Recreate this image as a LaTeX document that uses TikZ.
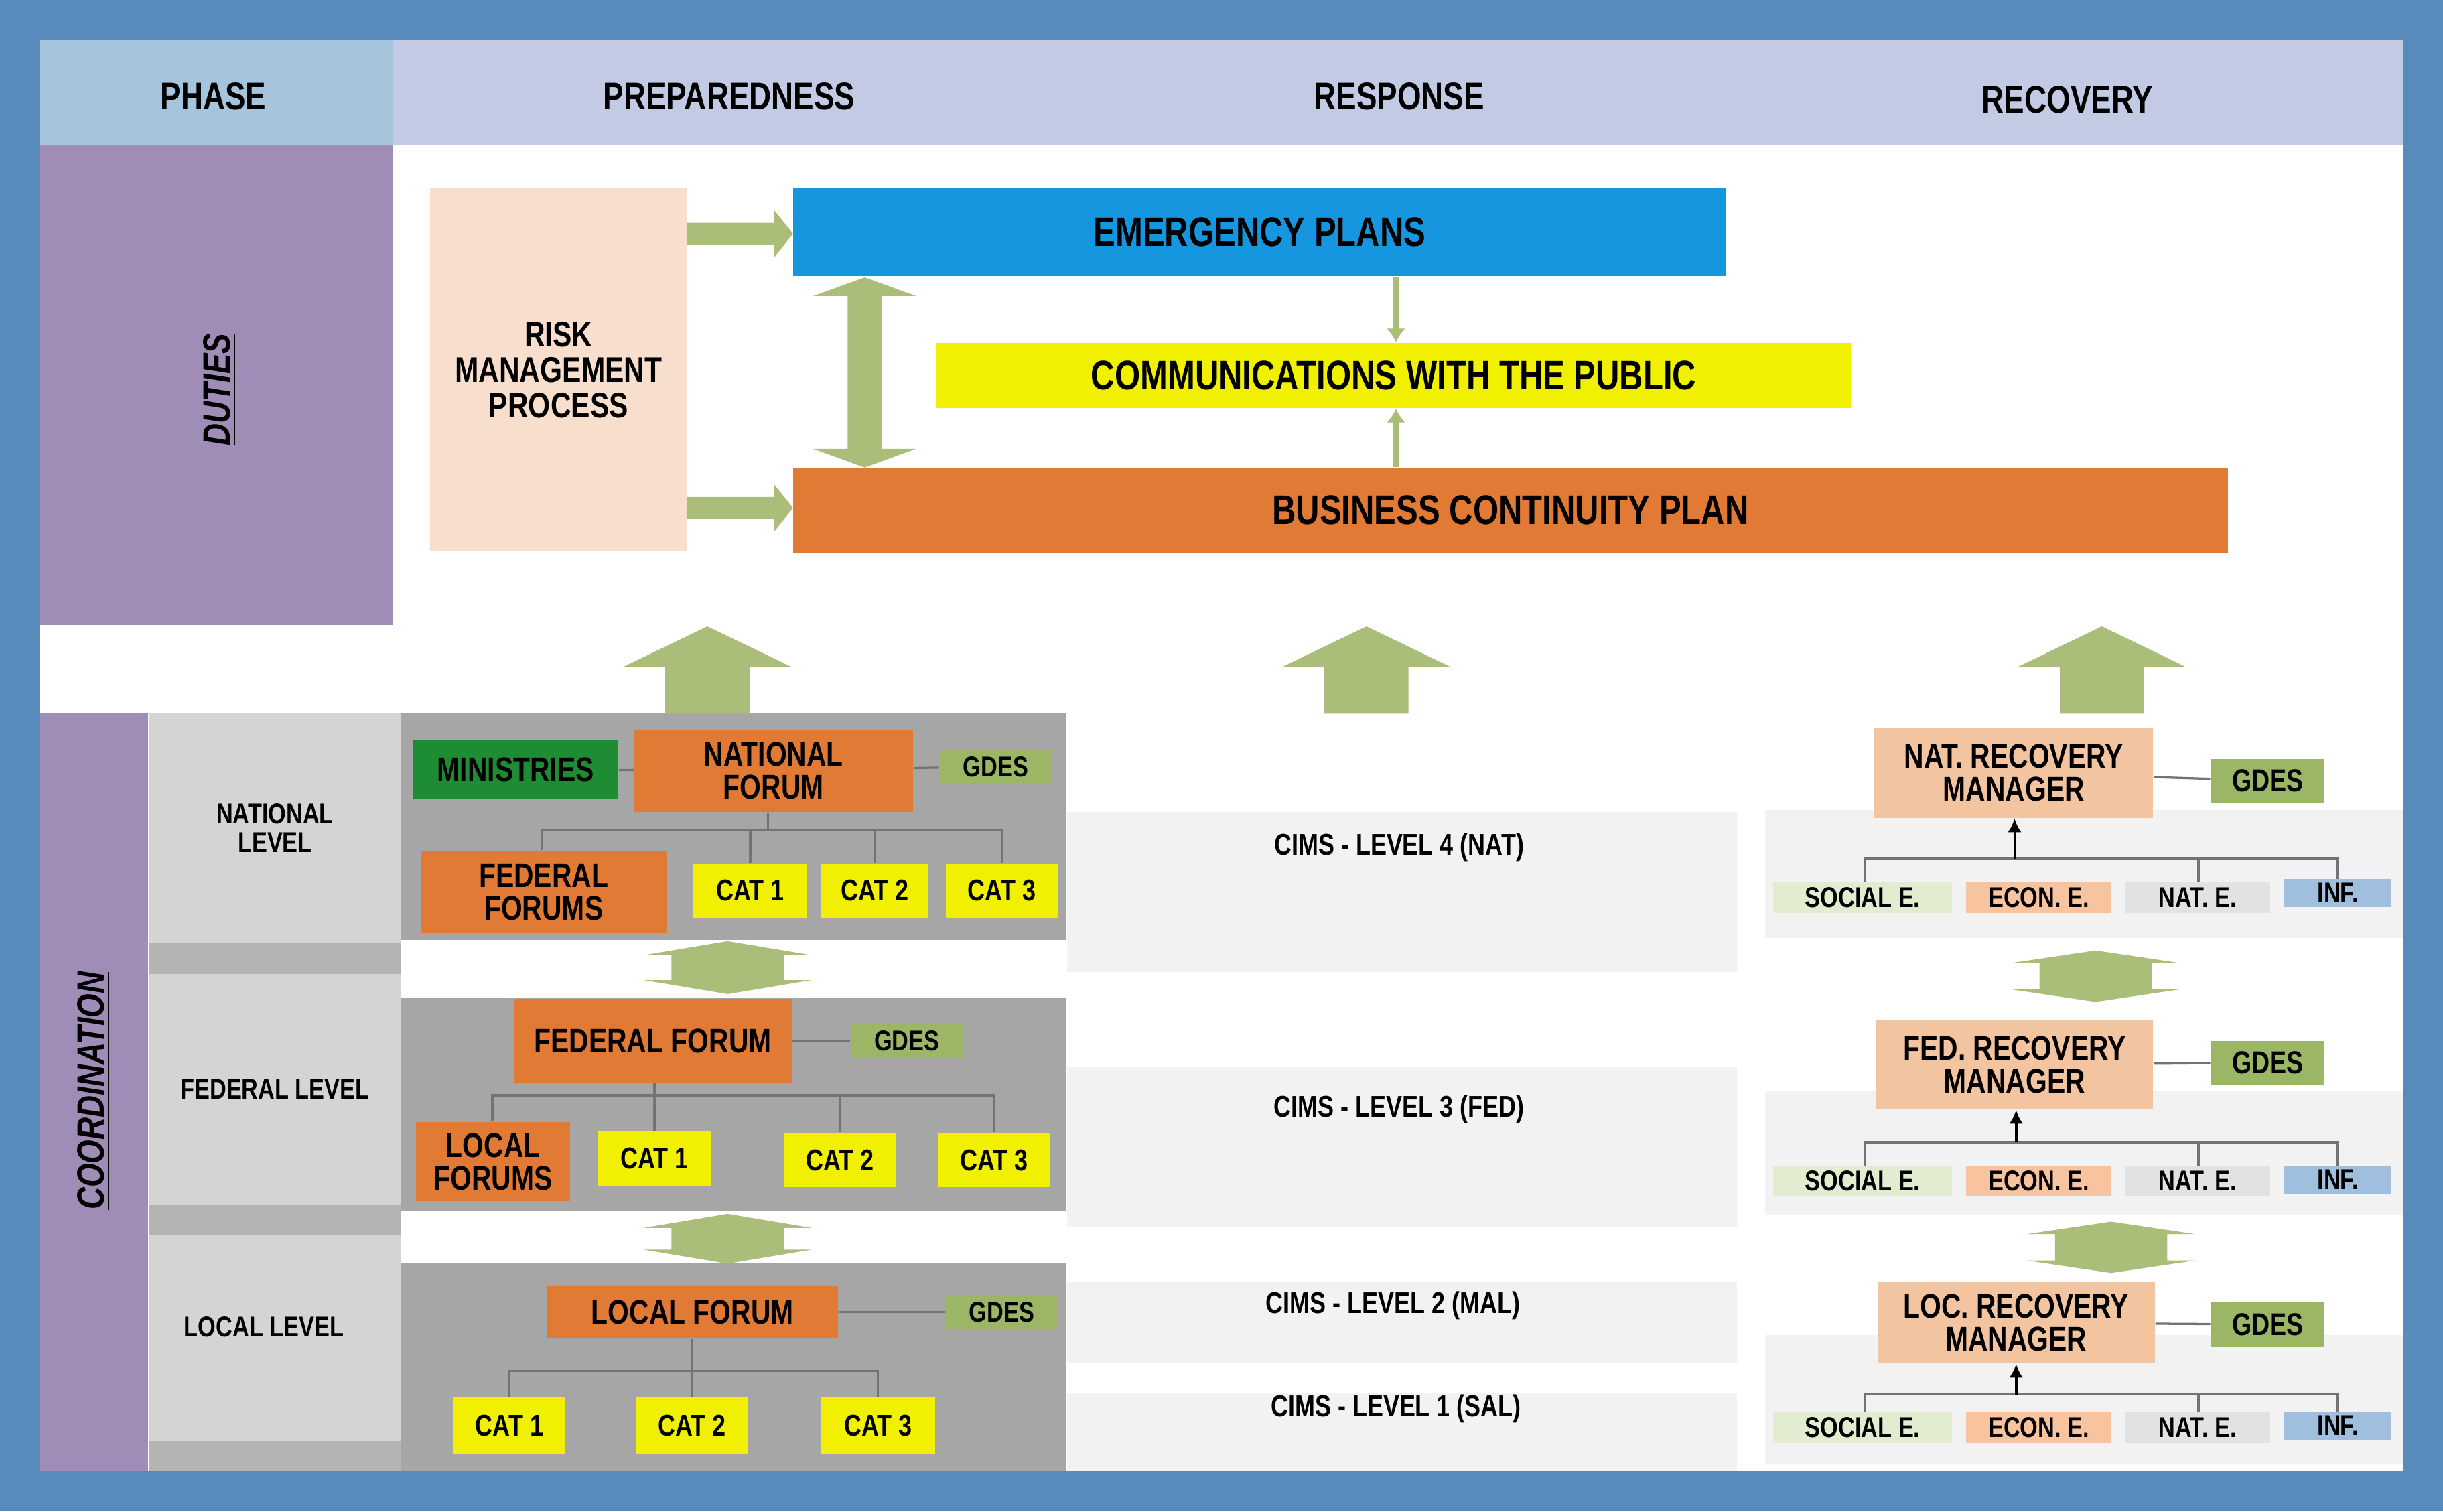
\documentclass[tikz,border=0pt]{standalone}
\usepackage{fontspec}
\usetikzlibrary{arrows.meta}
\setmainfont{Liberation Sans}[FakeStretch=0.8]
\begin{document}
\definecolor{bg}{RGB}{88,138,188}
\definecolor{hdA}{RGB}{166,196,220}
\definecolor{hdB}{RGB}{194,202,228}
\definecolor{purp}{RGB}{159,141,184}
\definecolor{lvl}{RGB}{212,212,212}
\definecolor{lvlD}{RGB}{180,180,180}
\definecolor{gbox}{RGB}{166,166,166}
\definecolor{lg}{RGB}{242,242,242}
\definecolor{risk}{RGB}{248,222,204}
\definecolor{blu}{RGB}{22,150,222}
\definecolor{yel}{RGB}{240,240,0}
\definecolor{ora}{RGB}{224,122,52}
\definecolor{grn}{RGB}{170,190,122}
\definecolor{dgrn}{RGB}{30,140,50}
\definecolor{gdes}{RGB}{155,182,100}
\definecolor{rec}{RGB}{243,196,160}
\definecolor{soc}{RGB}{226,236,208}
\definecolor{eco}{RGB}{248,196,160}
\definecolor{nat}{RGB}{226,226,226}
\definecolor{inf}{RGB}{160,190,222}
\newcommand{\R}[7]{%
 \pgfmathsetmacro{\ww}{(#4-#2)*0.02}\pgfmathsetmacro{\hh}{(#5-#3)*0.02}%
 \node[#6,minimum width=\ww cm,minimum height=\hh cm] (#1) at ({(#2+#4)/2},{(#3+#5)/2}) {#7};}
\newcommand{\dbl}[6]{% cx, ytop, ybot, headhalf, shafthalf, headlen
 \fill[grn] (#1,#2) -- ({#1+#4},{#2+#6}) -- ({#1+#5},{#2+#6}) -- ({#1+#5},{#3-#6}) -- ({#1+#4},{#3-#6}) -- (#1,#3)
  -- ({#1-#4},{#3-#6}) -- ({#1-#5},{#3-#6}) -- ({#1-#5},{#2+#6}) -- ({#1-#4},{#2+#6}) -- cycle;}
\newcommand{\uparr}[1]{%
 \fill[grn] (#1,402) -- ({#1+54},428) -- ({#1+27},428) -- ({#1+27},458) -- ({#1-27},458) -- ({#1-27},428) -- ({#1-54},428) -- cycle;}
\newcommand{\rarr}[1]{%
 \fill[grn] (441,{#1-7}) -- (497,{#1-7}) -- (497,{#1-15}) -- (509,#1) -- (497,{#1+15}) -- (497,{#1+7}) -- (441,{#1+7}) -- cycle;}
\begin{tikzpicture}[x=0.02cm,y=-0.02cm,
 every node/.style={inner sep=0pt,align=center,font=\fontsize{11}{11}\selectfont\bfseries},
 bx/.style={rectangle,draw=none},
 hd/.style={font=\fontsize{14}{14}\selectfont\bfseries},
 big/.style={bx,font=\fontsize{15}{15}\selectfont\bfseries},
 mid/.style={bx,font=\fontsize{12.5}{12}\selectfont\bfseries},
 cat/.style={bx,fill=yel,font=\fontsize{11}{11}\selectfont\bfseries},
 gd/.style={bx,fill=gdes,font=\fontsize{10.5}{10}\selectfont\bfseries},
 sm/.style={bx,font=\fontsize{10.5}{10}\selectfont\bfseries,anchor=center},
 lv/.style={bx,fill=lvl,font=\fontsize{10.5}{10.5}\selectfont\bfseries},
 ln/.style={draw=gray!90!black,line width=0.8pt},
 thin/.style={grn,line width=2.5pt,-{Latex[length=5pt,width=7pt]}},
 blk/.style={black,line width=0.9pt,-{Latex[length=5pt,width=5pt]}}]
\useasboundingbox (0,0) rectangle (1568,970);
\fill[bg] (0,0) rectangle (1568,970);
\fill[white] (26,26) rectangle (1542,944);
% header
\fill[hdA] (26,26) rectangle (252,93);
\fill[hdB] (252,26) rectangle (1542,93);
\node[hd] (hPh) at (137,62) {PHASE};
\node[hd] (hPr) at (468,62) {PREPAREDNESS};
\node[hd] (hRe) at (898,62) {RESPONSE};
\node[hd] (hRc) at (1327,64) {RECOVERY};
% left columns
\fill[purp] (26,93) rectangle (252,401);
\node[rotate=90,font=\fontsize{14}{14}\selectfont\bfseries\itshape] (duties) at (141,250) {\underline{DUTIES}};
\fill[purp] (26,458) rectangle (95,944);
\node[rotate=90,font=\fontsize{14}{14}\selectfont\bfseries\itshape] (coord) at (60,700) {\underline{COORDINATION}};
\fill[lvlD] (96,458) rectangle (257,944);
\R{ln}{96}{458}{257}{605}{lv}{NATIONAL\\LEVEL}
\R{lf}{96}{625}{257}{773}{lv}{FEDERAL LEVEL}
\R{ll}{96}{793}{257}{925}{lv}{\hspace*{-8pt}LOCAL LEVEL\\[-2pt]\mbox{}}
\fill[gbox] (257,458) rectangle (684,603);
\fill[gbox] (257,640) rectangle (684,777);
\fill[gbox] (257,811) rectangle (684,944);
\fill[lg] (685,521) rectangle (1115,624);
\fill[lg] (685,685) rectangle (1115,787);
\fill[lg] (685,823) rectangle (1115,875);
\fill[lg] (685,894) rectangle (1115,944);
\fill[lg] (1133,520) rectangle (1542,602);
\fill[lg] (1133,700) rectangle (1542,780);
\fill[lg] (1133,857) rectangle (1542,940);
% duties
\R{risk}{276}{121}{441}{354}{bx,fill=risk,font=\fontsize{13}{13}\selectfont\bfseries}{RISK\\MANAGEMENT\\PROCESS}
\R{ep}{509}{121}{1108}{177}{big,fill=blu}{EMERGENCY PLANS}
\R{com}{601}{220}{1188}{262}{big,fill=yel}{COMMUNICATIONS WITH THE PUBLIC}
\R{bcp}{509}{300}{1430}{355}{big,fill=ora}{BUSINESS CONTINUITY PLAN}
\rarr{150}\rarr{326}
\dbl{555}{178}{300}{33}{11}{12}
\draw[thin] (ep.south -| 896,0) -- (com.north -| 896,0);
\draw[thin] (bcp.north -| 896,0) -- (com.south -| 896,0);
\uparr{454}\uparr{877}\uparr{1349}
% national
\R{min}{265}{475}{397}{513}{mid,fill=dgrn}{MINISTRIES}
\R{nf}{407}{468}{586}{521}{mid,fill=ora}{NATIONAL\\FORUM}
\R{ng}{603}{481}{675}{503}{gd}{GDES}
\R{ff}{270}{546}{428}{599}{mid,fill=ora}{FEDERAL\\FORUMS}
\R{n1}{445}{554}{518}{589}{cat}{CAT 1}
\R{n2}{527}{554}{596}{589}{cat}{CAT 2}
\R{n3}{607}{554}{679}{589}{cat}{CAT 3}
\coordinate (b1) at (0,533);
\draw[ln] (min) -- (nf); \draw[ln] (nf) -- (ng);
\draw[ln] (ff.north -| 348,0) -- (348,533) -- (643,533) -- (n3.north -| 643,0);
\draw[ln] (nf.south -| 493,0) -- (493,533);
\draw[ln] (n1.north) -- (n1.north |- b1); \draw[ln] (n2.north) -- (n2.north |- b1);
\dbl{467}{604}{638}{54}{36}{9}
% federal
\R{fF}{330}{641}{508}{695}{mid,fill=ora}{FEDERAL FORUM}
\R{fg}{546}{657}{618}{679}{gd}{GDES}
\R{lfs}{267}{720}{366}{771}{mid,fill=ora}{LOCAL\\FORUMS}
\R{f1}{384}{726}{456}{761}{cat}{CAT 1}
\R{f2}{503}{727}{575}{762}{cat}{CAT 2}
\R{f3}{602}{727}{674}{762}{cat}{CAT 3}
\coordinate (b2) at (0,703);
\draw[ln] (fF) -- (fg);
\draw[ln] (lfs.north -| 316,0) -- (316,703) -- (638,703) -- (f3.north -| 638,0);
\draw[ln] (fF.south -| 420,0) -- (420,703);
\draw[ln] (f1.north) -- (f1.north |- b2); \draw[ln] (f2.north) -- (f2.north |- b2);
\dbl{467}{779}{811}{54}{36}{9}
% local
\R{lF}{351}{825}{538}{859}{mid,fill=ora}{LOCAL FORUM}
\R{lg}{607}{831}{679}{853}{gd}{GDES}
\R{l1}{291}{897}{363}{933}{cat}{CAT 1}
\R{l2}{408}{897}{480}{933}{cat}{CAT 2}
\R{l3}{527}{897}{600}{933}{cat}{CAT 3}
\coordinate (b3) at (0,880);
\draw[ln] (lF) -- (lg);
\draw[ln] (l1.north) -- (l1.north |- b3) -- (l3.north |- b3) -- (l3.north);
\draw[ln] (lF.south -| l2.north) -- (l2.north);
% CIMS
\node (c4) at (898,544) {CIMS - LEVEL 4 (NAT)};
\node (c3) at (898,712) {CIMS - LEVEL 3 (FED)};
\node (c2) at (894,838) {CIMS - LEVEL 2 (MAL)};
\node (c1) at (896,904) {CIMS - LEVEL 1 (SAL)};
% recovery
\R{rn}{1203}{467}{1382}{525}{mid,fill=rec}{NAT. RECOVERY\\MANAGER}
\R{rng}{1419}{487}{1492}{515}{gd,font=\fontsize{11.5}{11}\selectfont\bfseries}{GDES}
\R{rn1}{1138}{566}{1253}{586}{sm,fill=soc}{SOCIAL E.}
\R{rn2}{1262}{566}{1355}{586}{sm,fill=eco}{ECON. E.}
\R{rn3}{1364}{566}{1457}{586}{sm,fill=nat}{NAT. E.}
\R{rn4}{1466}{564}{1535}{582}{sm,fill=inf}{INF.}
\draw[ln] (rn) -- (rng);
\draw[ln] (1197,566) -- (1197,551) -- (1500,551) -- (1500,564);
\draw[ln] (1411,551) -- (1411,566);
\draw[blk] (1293,551) -- (rn.south -| 1293,0);
\dbl{1345}{610}{643}{54}{36}{8}
\R{rf}{1204}{655}{1382}{712}{mid,fill=rec}{FED. RECOVERY\\MANAGER}
\R{rfg}{1419}{668}{1492}{696}{gd,font=\fontsize{11.5}{11}\selectfont\bfseries}{GDES}
\R{rf1}{1138}{748}{1253}{768}{sm,fill=soc}{SOCIAL E.}
\R{rf2}{1262}{748}{1355}{768}{sm,fill=eco}{ECON. E.}
\R{rf3}{1364}{748}{1457}{768}{sm,fill=nat}{NAT. E.}
\R{rf4}{1466}{748}{1535}{766}{sm,fill=inf}{INF.}
\draw[ln] (rf) -- (rfg);
\draw[ln] (1197,748) -- (1197,733) -- (1500,733) -- (1500,748);
\draw[ln] (1411,733) -- (1411,748);
\draw[blk] (1294,733) -- (rf.south -| 1294,0);
\dbl{1355}{784}{817}{54}{36}{8}
\R{rl}{1205}{823}{1383}{875}{mid,fill=rec}{LOC. RECOVERY\\MANAGER}
\R{rlg}{1419}{836}{1492}{864}{gd,font=\fontsize{11.5}{11}\selectfont\bfseries}{GDES}
\R{rl1}{1138}{906}{1253}{926}{sm,fill=soc}{SOCIAL E.}
\R{rl2}{1262}{906}{1355}{926}{sm,fill=eco}{ECON. E.}
\R{rl3}{1364}{906}{1457}{926}{sm,fill=nat}{NAT. E.}
\R{rl4}{1466}{906}{1535}{924}{sm,fill=inf}{INF.}
\draw[ln] (rl) -- (rlg);
\draw[ln] (1197,906) -- (1197,895) -- (1500,895) -- (1500,906);
\draw[ln] (1411,895) -- (1411,906);
\draw[blk] (1294,895) -- (rl.south -| 1294,0);
\end{tikzpicture}
\end{document}
